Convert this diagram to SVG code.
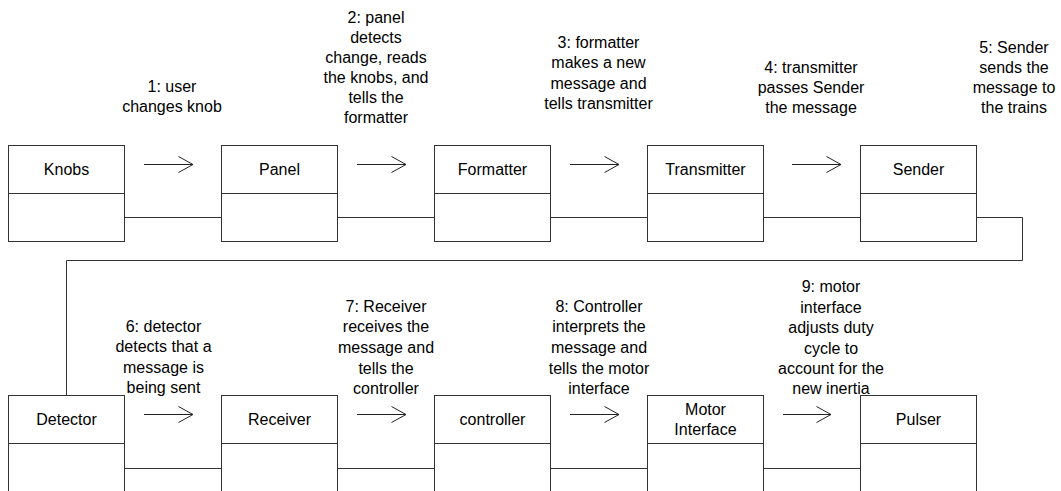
<svg xmlns="http://www.w3.org/2000/svg" width="1061" height="491" viewBox="0 0 1061 491">
<style>
.box{fill:#fff;stroke:#333;stroke-width:1}
.div{stroke:#333;stroke-width:1}
.conn{fill:none;stroke:#333;stroke-width:1}
.arr{fill:none;stroke:#222;stroke-width:1}
text{font-family:"Liberation Sans",Arial,sans-serif;font-size:16px;fill:#000;text-anchor:middle}
</style>
<defs>
<marker id="open" markerUnits="userSpaceOnUse" markerWidth="20" markerHeight="20" viewBox="-16 -10 18 20" refX="0" refY="0" orient="auto">
<path d="M-14.5,-8 L0,0 L-14.5,8" fill="none" stroke="#222" stroke-width="1"/>
</marker>
</defs>
<rect width="1061" height="491" fill="#fff"/>

<g id="connectors">
<path class="conn" d="M124.5,217.5H221.5M337.5,217.5H434.5M550.5,217.5H647.5M763.5,217.5H860.5"/>
<path class="conn" d="M976.5,217.5H1022.5V260.5H66.5V395.5"/>
<path class="conn" d="M124.5,468.5H221.5M337.5,468.5H434.5M550.5,468.5H647.5M763.5,468.5H860.5"/>
<line class="arr" x1="144" y1="164.5" x2="193" y2="164.5" marker-end="url(#open)"/>
<line class="arr" x1="357" y1="164.5" x2="406" y2="164.5" marker-end="url(#open)"/>
<line class="arr" x1="570" y1="164.5" x2="619" y2="164.5" marker-end="url(#open)"/>
<line class="arr" x1="792" y1="164.5" x2="841" y2="164.5" marker-end="url(#open)"/>
<line class="arr" x1="144" y1="414.5" x2="193" y2="414.5" marker-end="url(#open)"/>
<line class="arr" x1="357" y1="414.5" x2="406" y2="414.5" marker-end="url(#open)"/>
<line class="arr" x1="570" y1="414.5" x2="619" y2="414.5" marker-end="url(#open)"/>
<line class="arr" x1="783" y1="414.5" x2="831" y2="414.5" marker-end="url(#open)"/>
</g>

<g id="labels">
<text x="172" y="92">1: user<tspan x="172" dy="20">changes knob</tspan></text>
<text x="376" y="23">2: panel<tspan x="376" dy="20">detects</tspan><tspan x="376" dy="20">change, reads</tspan><tspan x="376" dy="20">the knobs, and</tspan><tspan x="376" dy="20">tells the</tspan><tspan x="376" dy="20">formatter</tspan></text>
<text x="598.5" y="47.5">3: formatter<tspan x="598.5" dy="20.5">makes a new</tspan><tspan x="598.5" dy="20.5">message and</tspan><tspan x="598.5" dy="20.5">tells transmitter</tspan></text>
<text x="811" y="72.5">4: transmitter<tspan x="811" dy="20">passes Sender</tspan><tspan x="811" dy="20">the message</tspan></text>
<text x="1014" y="52.5">5: Sender<tspan x="1014" dy="20">sends the</tspan><tspan x="1014" dy="20">message to</tspan><tspan x="1014" dy="20">the trains</tspan></text>
<text x="163.5" y="331.7">6: detector<tspan x="163.5" dy="20.4">detects that a</tspan><tspan x="163.5" dy="20.4">message is</tspan><tspan x="163.5" dy="20.4">being sent</tspan></text>
<text x="386" y="311.7">7: Receiver<tspan x="386" dy="20.6">receives the</tspan><tspan x="386" dy="20.6">message and</tspan><tspan x="386" dy="20.6">tells the</tspan><tspan x="386" dy="20.6">controller</tspan></text>
<text x="599" y="311.7">8: Controller<tspan x="599" dy="20.6">interprets the</tspan><tspan x="599" dy="20.6">message and</tspan><tspan x="599" dy="20.6">tells the motor</tspan><tspan x="599" dy="20.6">interface</tspan></text>
<text x="831" y="292.4">9: motor<tspan x="831" dy="20.4">interface</tspan><tspan x="831" dy="20.4">adjusts duty</tspan><tspan x="831" dy="20.4">cycle to</tspan><tspan x="831" dy="20.4">account for the</tspan><tspan x="831" dy="20.4">new inertia</tspan></text>
</g>

<g id="knobs"><rect class="box" x="8.5" y="145.5" width="116" height="96"/><line class="div" x1="8.5" y1="193.5" x2="124.5" y2="193.5"/><text x="66.5" y="174.5">Knobs</text></g>
<g id="panel"><rect class="box" x="221.5" y="145.5" width="116" height="96"/><line class="div" x1="221.5" y1="193.5" x2="337.5" y2="193.5"/><text x="279.5" y="174.5">Panel</text></g>
<g id="formatter"><rect class="box" x="434.5" y="145.5" width="116" height="96"/><line class="div" x1="434.5" y1="193.5" x2="550.5" y2="193.5"/><text x="492.5" y="174.5">Formatter</text></g>
<g id="transmitter"><rect class="box" x="647.5" y="145.5" width="116" height="96"/><line class="div" x1="647.5" y1="193.5" x2="763.5" y2="193.5"/><text x="705.5" y="174.5">Transmitter</text></g>
<g id="sender"><rect class="box" x="860.5" y="145.5" width="116" height="96"/><line class="div" x1="860.5" y1="193.5" x2="976.5" y2="193.5"/><text x="918.5" y="174.5">Sender</text></g>

<g id="detector"><rect class="box" x="8.5" y="395.5" width="116" height="96"/><line class="div" x1="8.5" y1="443.5" x2="124.5" y2="443.5"/><text x="66.5" y="425">Detector</text></g>
<g id="receiver"><rect class="box" x="221.5" y="395.5" width="116" height="96"/><line class="div" x1="221.5" y1="443.5" x2="337.5" y2="443.5"/><text x="279.5" y="425">Receiver</text></g>
<g id="controller"><rect class="box" x="434.5" y="395.5" width="116" height="96"/><line class="div" x1="434.5" y1="443.5" x2="550.5" y2="443.5"/><text x="492.5" y="425">controller</text></g>
<g id="motor-interface"><rect class="box" x="647.5" y="395.5" width="116" height="96"/><line class="div" x1="647.5" y1="443.5" x2="763.5" y2="443.5"/><text x="705.5" y="415.4">Motor<tspan x="705.5" dy="20">Interface</tspan></text></g>
<g id="pulser"><rect class="box" x="860.5" y="395.5" width="116" height="96"/><line class="div" x1="860.5" y1="443.5" x2="976.5" y2="443.5"/><text x="918.5" y="425">Pulser</text></g>
</svg>
